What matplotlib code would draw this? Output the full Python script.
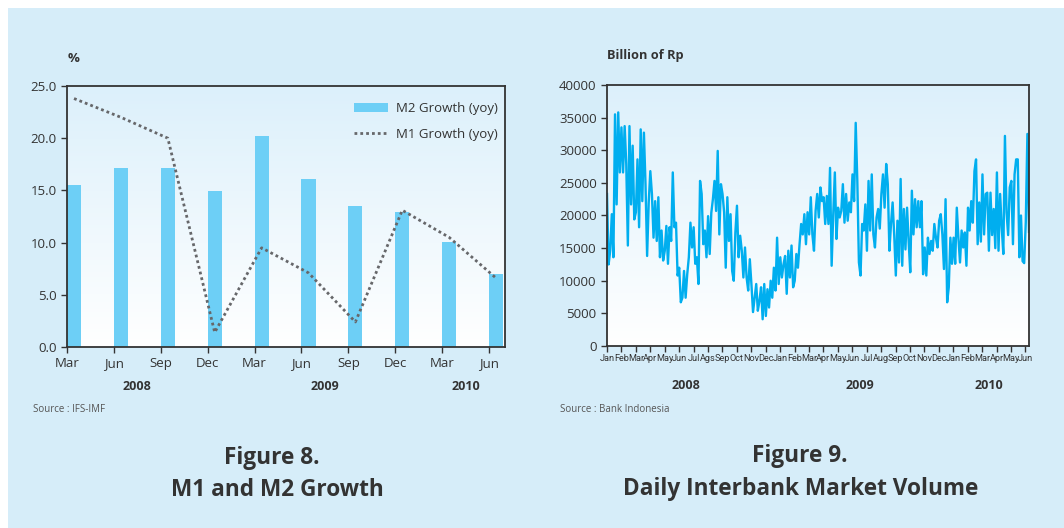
import numpy as np
import matplotlib
matplotlib.use("Agg")
import matplotlib.pyplot as plt
from matplotlib.patches import Rectangle

plt.rcParams['font.family'] = ['Open Sans', 'DejaVu Sans']

# Figure 8: quarterly money growth, % yoy
quarters = ['Mar', 'Jun', 'Sep', 'Dec', 'Mar', 'Jun', 'Sep', 'Dec', 'Mar', 'Jun']
m2_growth = [15.5, 17.1, 17.1, 14.9, 20.2, 16.1, 13.5, 12.9, 10.1, 7.0]
m1_growth = [23.8, 22.0, 20.0, 1.4, 9.5, 7.1, 2.4, 13.1, 10.5, 6.6]
quarter_years = ['2008', '2009', '2010']
quarter_year_pos = [1.5, 5.5, 8.5]

# Figure 9: daily interbank volume, billion Rp (Jan 2008 - Jun 2010)
months = ['Jan', 'Feb', 'Mar', 'Apr', 'May', 'Jun', 'Jul', 'Ags', 'Sep', 'Oct', 'Nov', 'Dec',
          'Jan', 'Feb', 'Mar', 'Apr', 'May', 'Jun', 'Jul', 'Aug', 'Sep', 'Oct', 'Nov', 'Dec',
          'Jan', 'Feb', 'Mar', 'Apr', 'May', 'Jun']
month_years = ['2008', '2009', '2010']
month_year_pos = [5.5, 17.5, 26.5]
volume = [
    23300, 12500, 14600, 20200, 13600, 35500, 21700, 35800, 26600,  # Jan 08
    33500, 26600, 33700, 27900, 15400, 33700, 21700, 30700, 19400,
    20500, 28600, 18200, 33200, 22200, 32700, 24800, 13800, 22000,
    26800, 23300, 16600, 22200, 16100, 22800, 13600, 17700, 13100,
    14600, 18400, 12600, 18200, 16100, 26600, 18200, 18900, 10800,
    12000, 6700, 7400, 11500, 7400, 11000, 13600, 18900, 15100,
    18200, 12600, 13600, 9500, 25300, 23300, 15600, 17700, 13600,
    19900, 14100, 20400, 22500, 25300, 20700, 29900, 17100, 24800,
    23300, 20500, 12000, 22800, 16100, 20200, 11500, 10000, 17400,
    21500, 13600, 16900, 14600, 10500, 15100, 10500, 8500, 13300,
    9500, 5200, 7400, 9500, 5400, 6900, 9000, 4100, 9500,
    4600, 8700, 5900, 10000, 7400, 12000, 8500, 16600, 9500,
    13600, 10500, 12500, 13800, 8000, 14600, 10500, 15400, 9000,  # Jan 09
    10000, 14100, 12000, 15600, 18700, 17100, 20200, 15600, 20500,
    17100, 22800, 17100, 14600, 20700, 23300, 19700, 24300, 22200,
    22800, 18700, 23000, 18700, 27300, 12300, 20200, 26600, 16400,
    21200, 19700, 20700, 24800, 18900, 23300, 19200, 22000, 20500,
    26300, 22200, 34200, 25300, 12800, 10800, 18700, 17700, 21700,
    14600, 25300, 17700, 26300, 17100, 15100, 19700, 21000, 18000,
    23300, 26300, 21200, 27900, 24800, 14600, 18700, 22000, 17000,
    10800, 19200, 12800, 25600, 12300, 21000, 14800, 21200, 16000,
    11300, 23800, 17100, 22500, 18200, 22200, 18200, 22200, 11000,
    15100, 10800, 16600, 14100, 16100, 14600, 18700, 16600, 15100,
    19200, 20200, 17100, 11800, 22500, 6700, 9000, 16600, 12600,
    16600, 12600, 21200, 16600, 12800, 17700, 15100, 17400, 12300,  # Jan 10
    21200, 17700, 22200, 18900, 26800, 28600, 15600, 22000, 16000,
    26300, 17100, 23300, 23500, 14600, 23500, 17000, 21000, 15000,
    26600, 14600, 23300, 18200, 14100, 32200, 20500, 17000, 24300,
    25300, 15600, 26300, 28600, 28600, 13600, 20000, 13000, 12700,
    19000, 32500, 17500,
]

W, H = 1064, 528
panel = '#d6edf9'
ink = '#333333'

fig = plt.figure(figsize=(W / 100, H / 100), dpi=100)
fig.patch.set_facecolor('white')
fig.patches.append(Rectangle((8 / W, 0), 1 - 8 / W, 1 - 8 / H, transform=fig.transFigure,
                             facecolor=panel, edgecolor='none', zorder=-10))

grad = np.linspace(0, 1, 256).reshape(-1, 1)
sky = matplotlib.colors.LinearSegmentedColormap.from_list('sky', ['#ffffff', '#dcf0fb'])


def style_axes(ax):
    ax.imshow(grad, extent=[0, 1, 0, 1], transform=ax.transAxes, origin='lower',
              aspect='auto', cmap=sky, zorder=0)
    for s in ax.spines.values():
        s.set_color(ink)
        s.set_linewidth(1.3)
        s.set_zorder(5)
    ax.tick_params(direction='out', length=4, width=1, color=ink, labelcolor=ink)


# ---- Figure 8 ----
ax1 = fig.add_axes([67 / W, 1 - 347 / H, 438 / W, 261 / H])
style_axes(ax1)
xq = np.arange(len(quarters))
bars = ax1.bar(xq, m2_growth, width=0.3, align='edge', color='#6dcff6', zorder=2)
line, = ax1.plot(xq + 0.15, m1_growth, color='#66676a', lw=2, linestyle=(0, (1, 1.1)),
                 zorder=3)
ax1.set_xlim(0, 9.34)
ax1.set_ylim(0, 25)
ax1.set_yticks(np.arange(0, 26, 5))
ax1.set_yticklabels([f'{v:.1f}' for v in np.arange(0, 26, 5)], fontsize=9.5)
ax1.set_xticks(xq)
ax1.set_xticklabels(quarters, fontsize=9.5)
for yr, px in zip(quarter_years, quarter_year_pos):
    ax1.text(px, -0.125, yr, transform=ax1.get_xaxis_transform(), ha='center', va='top',
             fontsize=9, fontweight='bold', color=ink)
leg = ax1.legend([bars, line], ['M2 Growth (yoy)', 'M1 Growth (yoy)'], loc='upper right',
                 bbox_to_anchor=(1 + 5 / 438, 1 - 4 / 261), frameon=False, fontsize=9.5,
                 handlelength=2.6, handletextpad=0.6, labelspacing=1.0, borderaxespad=0.5)
for t in leg.get_texts():
    t.set_color(ink)
fig.text(68 / W, 1 - 58 / H, '%', fontsize=9.5, fontweight='bold', color=ink, va='center')
fig.text(33 / W, 1 - 410 / H, 'Source : IFS-IMF', fontsize=7, color='#555555', va='center')
fig.text(272 / W, 1 - 458 / H, 'Figure 8.', fontsize=16.3, fontweight='bold', color=ink,
         ha='center', va='center')
fig.text(277 / W, 1 - 490 / H, 'M1 and M2 Growth', fontsize=16.3, fontweight='bold', color=ink,
         ha='center', va='center')

# ---- Figure 9 ----
ax2 = fig.add_axes([607 / W, 1 - 346 / H, 422 / W, 261 / H])
style_axes(ax2)
xd = np.linspace(0, 29.25, len(volume))
ax2.plot(xd, volume, color='#00aeef', lw=1.7, zorder=3)
ax2.set_xlim(0, 29.25)
ax2.set_ylim(0, 40000)
ax2.set_yticks(np.arange(0, 40001, 5000))
ax2.tick_params(axis='y', labelsize=9.5)
ax2.set_xticks(np.arange(len(months)))
ax2.set_xticklabels(months, fontsize=6.6,
                    family=['Liberation Sans Narrow', 'Roboto', 'DejaVu Sans'])
ax2.tick_params(axis='x', pad=2)
for yr, px in zip(month_years, month_year_pos):
    ax2.text(px, -0.125, yr, transform=ax2.get_xaxis_transform(), ha='center', va='top',
             fontsize=9, fontweight='bold', color=ink)
fig.text(607 / W, 1 - 56 / H, 'Billion of Rp', fontsize=9.2, fontweight='bold', color=ink,
         va='center')
fig.text(560 / W, 1 - 410 / H, 'Source : Bank Indonesia', fontsize=7, color='#555555',
         va='center')
fig.text(800 / W, 1 - 456 / H, 'Figure 9.', fontsize=16.3, fontweight='bold', color=ink,
         ha='center', va='center')
fig.text(801 / W, 1 - 489 / H, 'Daily Interbank Market Volume', fontsize=16.3,
         fontweight='bold', color=ink, ha='center', va='center')

fig.savefig('out.png', dpi=100)
